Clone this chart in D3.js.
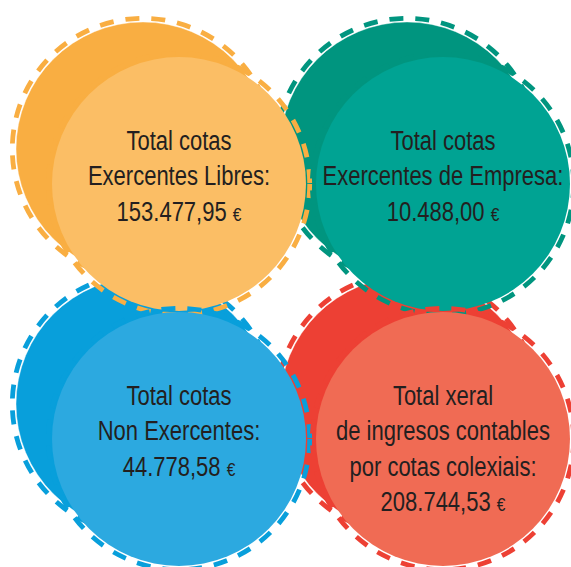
<!DOCTYPE html>
<html>
<head>
<meta charset="utf-8">
<script src="https://cdn.jsdelivr.net/npm/d3@7"></script>
<style>
  html, body { margin: 0; padding: 0; background: #ffffff; }
  svg { display: block; }
</style>
</head>
<body>
<svg id="chart" width="571" height="567"></svg>
<script>
// ---- data ----
const categories = ["libres", "empresa", "nonExercentes", "total"];
const labelLines = [
  ["Total cotas", "Exercentes Libres:"],
  ["Total cotas", "Exercentes de Empresa:"],
  ["Total cotas", "Non Exercentes:"],
  ["Total xeral", "de ingresos contables", "por cotas colexiais:"]
];
const amounts = [153477.95, 10488.00, 44778.58, 208744.53];
const gridCol = [0, 1, 0, 1];
const gridRow = [0, 0, 1, 1];
const backColors  = ["#f9ae42", "#00957f", "#089fdb", "#ed4034"];
const frontColors = ["#fbbe65", "#00a393", "#2ca9e0", "#f06b54"];

// ---- layout ----
const R = 127;
const x = d3.scalePoint().domain([0, 1]).range([179, 443]);
const y = d3.scalePoint().domain([0, 1]).range([184, 439]);
const backOffset = { dx: -36, dy: -35 };

const locale = d3.formatLocale({ decimal: ",", thousands: ".", grouping: [3], currency: ["", ""] });
const fmt = locale.format(",.2f");

const data = categories.map((c, i) => ({
  key: c,
  lines: labelLines[i],
  amount: amounts[i],
  cx: x(gridCol[i]),
  cy: y(gridRow[i]),
  back: backColors[i],
  front: frontColors[i]
}));

const svg = d3.select("#chart");

function drawDisc(g, cx, cy, fill, dashColor, ring) {
  g.append("circle")
    .attr("cx", cx).attr("cy", cy).attr("r", R + 3.7)
    .attr("fill", "none")
    .attr("stroke", dashColor)
    .attr("stroke-width", 4.8)
    .attr("stroke-dasharray", "14 12");
  const c = g.append("circle")
    .attr("cx", cx).attr("cy", cy).attr("r", R)
    .attr("fill", fill);
  if (ring) {
    c.attr("stroke", "#ffffff").attr("stroke-opacity", 0.5).attr("stroke-width", 0.8);
  }
}

// back discs first
const backLayer = svg.append("g");
data.forEach(d => {
  drawDisc(backLayer, d.cx + backOffset.dx, d.cy + backOffset.dy, d.back, d.back, true);
});

// front discs
const frontLayer = svg.append("g");
data.forEach(d => {
  drawDisc(frontLayer, d.cx, d.cy, d.front, d.back, false);
});

// labels (condensed face: Liberation Sans squeezed horizontally)
const textLayer = svg.append("g")
  .attr("font-family", "'Liberation Sans', Arial, sans-serif")
  .attr("font-size", 27)
  .attr("fill", "#231f20")
  .attr("text-anchor", "middle");

const lineH = 35.4;
const squeeze = 0.815;
data.forEach(d => {
  const t = textLayer.append("text")
    .attr("transform", `translate(${d.cx},${d.cy - 34}) scale(${squeeze},1)`)
    .attr("x", 0).attr("y", 0);
  d.lines.forEach((ln, j) => {
    t.append("tspan").attr("x", 0).attr("dy", j === 0 ? 0 : lineH).text(ln);
  });
  const last = t.append("tspan").attr("x", 0).attr("dy", lineH);
  last.append("tspan").text(fmt(d.amount) + " ");
  last.append("tspan").attr("font-size", 19).text("€");
});
</script>
</body>
</html>
